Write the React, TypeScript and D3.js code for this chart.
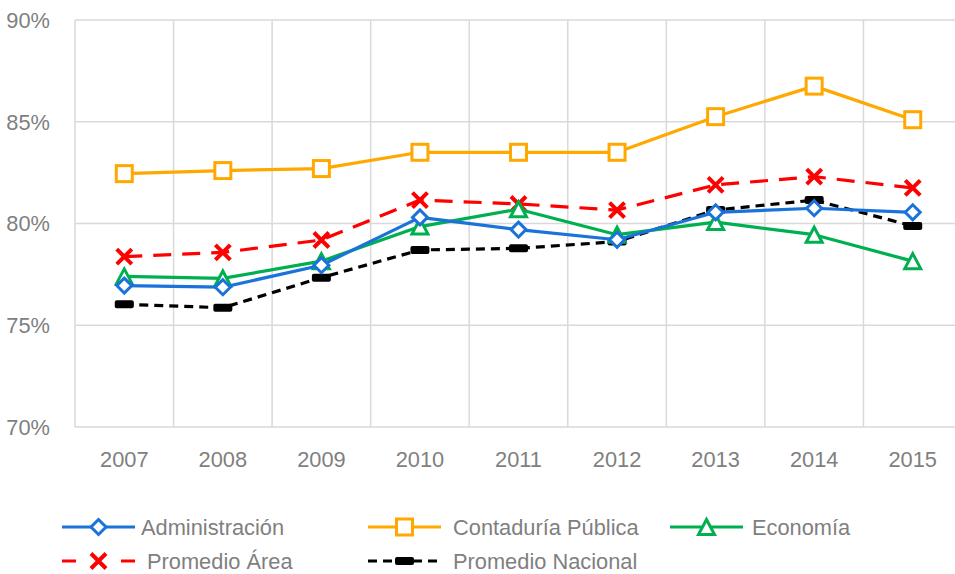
import React from "react";
import * as d3 from "d3";

const years = ["2007", "2008", "2009", "2010", "2011", "2012", "2013", "2014", "2015"];
const yTicks = [70, 75, 80, 85, 90];

const administracion = [76.95, 76.87, 77.95, 80.3, 79.7, 79.2, 80.55, 80.75, 80.55];
const contaduria = [82.45, 82.6, 82.7, 83.5, 83.5, 83.5, 85.25, 86.75, 85.1];
const economia = [77.4, 77.3, 78.15, 79.85, 80.7, 79.45, 80.07, 79.45, 78.15];
const promedioArea = [78.37, 78.58, 79.19, 81.15, 80.96, 80.66, 81.9, 82.3, 81.75];
const promedioNacional = [76.03, 75.86, 77.34, 78.7, 78.78, 79.11, 80.66, 81.15, 79.88];

type MarkerKind = "diamond" | "square" | "triangle" | "x" | "dash";
interface Series {
  name: string;
  values: number[];
  color: string;
  dash: string | null;
  marker: MarkerKind;
}

const series: Series[] = [
  { name: "Promedio Nacional", values: promedioNacional, color: "#000000", dash: "9,6", marker: "dash" },
  { name: "Promedio Área", values: promedioArea, color: "#FF0000", dash: "18,11", marker: "x" },
  { name: "Contaduría Pública", values: contaduria, color: "#FFA800", dash: null, marker: "square" },
  { name: "Economía", values: economia, color: "#00B050", dash: null, marker: "triangle" },
  { name: "Administración", values: administracion, color: "#1A73D9", dash: null, marker: "diamond" },
];

const legendLayout = [
  { name: "Administración", lx: 62, ty: 527, tx: 141 },
  { name: "Contaduría Pública", lx: 368, ty: 527, tx: 453 },
  { name: "Economía", lx: 670, ty: 527, tx: 752 },
  { name: "Promedio Área", lx: 62, ty: 561, tx: 147 },
  { name: "Promedio Nacional", lx: 368, ty: 561, tx: 453 },
];

const FONT = "'Liberation Sans', Arial, sans-serif";
const GRAY = "#7F7F7F";
const GRID = "#D9D9D9";
const FS = 22.5;
const SX = 0.97;

function Marker({ kind, x, y, color }: { kind: MarkerKind; x: number; y: number; color: string }) {
  const t = `translate(${x},${y})`;
  if (kind === "diamond") {
    return <path transform={t} d="M0,-7.5L7.5,0L0,7.5L-7.5,0Z" fill="#fff" stroke={color} strokeWidth={3} />;
  }
  if (kind === "square") {
    return <rect transform={t} x={-8} y={-8} width={16} height={16} fill="#fff" stroke={color} strokeWidth={3} />;
  }
  if (kind === "triangle") {
    return <path transform={t} d="M0,-7.5L8,7.5L-8,7.5Z" fill="#fff" stroke={color} strokeWidth={3} strokeLinejoin="miter" />;
  }
  if (kind === "x") {
    return (
      <path transform={t} d="M-7.5,-7.5L7.5,7.5M-7.5,7.5L7.5,-7.5" stroke={color} strokeWidth={4} fill="none" />
    );
  }
  return <rect transform={t} x={-9.5} y={-4} width={19} height={8} rx={2} fill={color} />;
}

function Label({ x, y, anchor, children }: { x: number; y: number; anchor: "start" | "middle" | "end"; children: React.ReactNode }) {
  return (
    <text
      transform={`translate(${x},${y}) scale(${SX},1)`}
      dy="0.35em"
      textAnchor={anchor}
      fontSize={FS}
      fill={GRAY}
    >
      {children}
    </text>
  );
}

export default function App() {
  const width = 955;
  const height = 574;
  const left = 75;
  const right = 962;
  const top = 20;
  const bottom = 427;

  const x = d3.scaleBand<string>().domain(years).range([left, right]);
  const cx = (yr: string) => (x(yr) as number) + x.bandwidth() / 2;
  const y = d3.scaleLinear().domain([70, 90]).range([bottom, top]);

  const line = d3
    .line<number>()
    .x((_, i) => cx(years[i]))
    .y((d) => y(d));

  const bounds = years.map((yr) => x(yr) as number);

  return (
    <svg
      width={width}
      height={height}
      style={{ position: "absolute", left: 0, top: 0, background: "#fff" }}
      fontFamily={FONT}
    >
      {yTicks.map((t) => (
        <line key={"h" + t} x1={left} x2={right} y1={y(t)} y2={y(t)} stroke={GRID} strokeWidth={1.5} />
      ))}
      {bounds.map((b, i) => (
        <line key={"v" + i} x1={b} x2={b} y1={top} y2={bottom} stroke={GRID} strokeWidth={1.5} />
      ))}
      {yTicks.map((t) => (
        <Label key={"yl" + t} x={50} y={y(t)} anchor="end">
          {t}%
        </Label>
      ))}
      {years.map((yr) => (
        <Label key={"xl" + yr} x={cx(yr)} y={459} anchor="middle">
          {yr}
        </Label>
      ))}
      {series.map((s) => (
        <g key={s.name}>
          <path
            d={line(s.values) || ""}
            fill="none"
            stroke={s.color}
            strokeWidth={3.2}
            strokeDasharray={s.dash || undefined}
            strokeLinejoin="round"
          />
          {s.values.map((v, i) => (
            <Marker key={i} kind={s.marker} x={cx(years[i])} y={y(v)} color={s.color} />
          ))}
        </g>
      ))}
      {legendLayout.map((l) => {
        const s = series.find((q) => q.name === l.name)!;
        return (
          <g key={"lg" + l.name}>
            <line
              x1={l.lx}
              x2={l.lx + 73}
              y1={l.ty}
              y2={l.ty}
              stroke={s.color}
              strokeWidth={3.2}
              strokeDasharray={s.marker === "x" ? "14,45,14,100" : s.dash || undefined}
            />
            <Marker kind={s.marker} x={l.lx + 36.5} y={l.ty} color={s.color} />
            <Label x={l.tx} y={l.ty} anchor="start">
              {l.name}
            </Label>
          </g>
        );
      })}
    </svg>
  );
}
